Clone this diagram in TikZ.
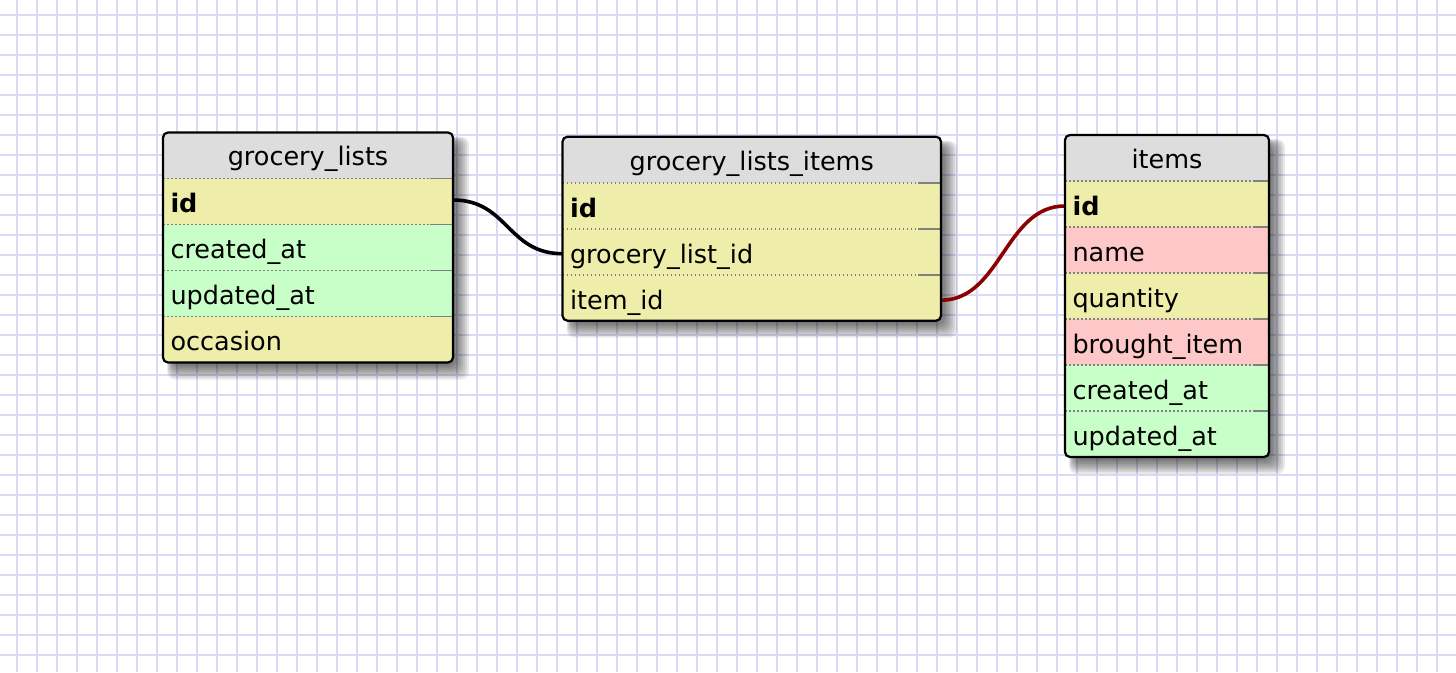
\documentclass[tikz,border=0pt]{standalone}
\usepackage{fontspec}
\setmainfont{DejaVu Sans}
\usetikzlibrary{calc}
\definecolor{hdrgray}{HTML}{DDDDDD}
\definecolor{numy}{HTML}{EEEEAA}
\definecolor{dateg}{RGB}{200,255,200}
\definecolor{charp}{RGB}{255,200,200}
\definecolor{gridc}{RGB}{218,218,244}
\definecolor{sepc}{HTML}{808080}
\definecolor{relred}{RGB}{140,0,0}
\newcommand\rowfont{\fontsize{25.5}{30}\selectfont}
\pgfdeclarelayer{gridlayer}
\pgfdeclarelayer{shadowlayer}
\pgfdeclarelayer{connlayer}
\pgfsetlayers{gridlayer,shadowlayer,connlayer,main}
\newcommand\shbox[4]{%
  \foreach \e in {-4,-2,...,12}{%
    \fill[black,opacity=0.085,rounded corners=8] ({#1+9-0.4*(\e)},{#2+9-0.4*(\e)}) rectangle ({#3+4+\e},{#4+5+\e});}}
\newcommand\sepline[2]{%
  \draw[sepdot] (#1.north west) -- ([xshift=-#2]#1.north east);
  \draw[sepsolid] ([xshift=-#2]#1.north east) -- (#1.north east);}
\tikzset{
  gridl/.style={draw=gridc, line width=2.2},
  rowbox/.style={rectangle, anchor=north west, minimum height=46, inner xsep=7.5, inner ysep=0,
    text height=25, text depth=2.2, align=left, font=\rowfont, outer sep=0},
  hdrbox/.style={rectangle, anchor=north west, minimum height=46, inner xsep=7.5, inner ysep=0,
    text height=23, text depth=2.2, align=center, font=\rowfont, outer sep=0, fill=hdrgray},
  tborder/.style={draw=black, line width=2.2, rounded corners=5},
  sepdot/.style={draw=sepc, line width=1.7, dash pattern=on 1.7 off 2.3},
  sepsolid/.style={draw=sepc, line width=1.8},
  rel/.style={line width=3.6, line cap=round},
}
\begin{document}
\begin{tikzpicture}[x=1pt,y=-1pt]
\useasboundingbox (0,0) rectangle (1456,672);
\begin{pgfonlayer}{gridlayer}
  \fill[white] (0,0) rectangle (1456,672);
  \foreach \x in {17,37,...,1457} \draw[gridl] (\x,0) -- (\x,672);
  \foreach \y in {15,35,...,675} \draw[gridl] (0,\y) -- (1456,\y);
\end{pgfonlayer}
\begin{pgfonlayer}{shadowlayer}
  \shbox{163}{132.5}{453}{362.5}
  \shbox{562.5}{136.7}{941}{320.7}
  \shbox{1065}{135}{1269}{457}
\end{pgfonlayer}

% table grocery_lists
\begin{scope}
  \clip[rounded corners=5] (163,132.5) rectangle (453,362.5);
  \node[hdrbox, text width=275pt] (gl-h) at (163,132.5) {grocery\_lists};
  \node[rowbox, text width=275pt, fill=numy] (gl-id) at (gl-h.south west) {\textbf{id}};
  \node[rowbox, text width=275pt, fill=dateg] (gl-ca) at (gl-id.south west) {created\_at};
  \node[rowbox, text width=275pt, fill=dateg] (gl-ua) at (gl-ca.south west) {updated\_at};
  \node[rowbox, text width=275pt, fill=numy] (gl-oc) at (gl-ua.south west) {occasion};
\end{scope}
\sepline{gl-id}{23}
\sepline{gl-ca}{23}
\sepline{gl-ua}{23}
\sepline{gl-oc}{23}
\draw[tborder] (gl-h.north west) rectangle (gl-oc.south east);

% table grocery_lists_items
\begin{scope}
  \clip[rounded corners=5] (562.5,136.7) rectangle (941,320.7);
  \node[hdrbox, text width=363.5pt] (gli-h) at (562.5,136.7) {grocery\_lists\_items};
  \node[rowbox, text width=363.5pt, fill=numy] (gli-id) at (gli-h.south west) {\textbf{id}};
  \node[rowbox, text width=363.5pt, fill=numy] (gli-glid) at (gli-id.south west) {grocery\_list\_id};
  \node[rowbox, text width=363.5pt, fill=numy] (gli-item) at (gli-glid.south west) {item\_id};
\end{scope}
\sepline{gli-id}{23}
\sepline{gli-glid}{23}
\sepline{gli-item}{23}
\draw[tborder] (gli-h.north west) rectangle (gli-item.south east);

% table items
\begin{scope}
  \clip[rounded corners=5] (1065,135) rectangle (1269,457);
  \node[hdrbox, text width=189pt] (it-h) at (1065,135) {items};
  \node[rowbox, text width=189pt, fill=numy] (it-id) at (it-h.south west) {\textbf{id}};
  \node[rowbox, text width=189pt, fill=charp] (it-name) at (it-id.south west) {name};
  \node[rowbox, text width=189pt, fill=numy] (it-qty) at (it-name.south west) {quantity};
  \node[rowbox, text width=189pt, fill=charp] (it-bi) at (it-qty.south west) {brought\_item};
  \node[rowbox, text width=189pt, fill=dateg] (it-ca) at (it-bi.south west) {created\_at};
  \node[rowbox, text width=189pt, fill=dateg] (it-ua) at (it-ca.south west) {updated\_at};
\end{scope}
\sepline{it-id}{14}
\sepline{it-name}{14}
\sepline{it-qty}{14}
\sepline{it-bi}{14}
\sepline{it-ca}{14}
\sepline{it-ua}{14}
\draw[tborder] (it-h.north west) rectangle (it-ua.south east);

% relations
\begin{pgfonlayer}{connlayer}
  \draw[rel, black] ([yshift=1.5]gl-id.east) .. controls +(55,0) and +(-55,0) .. ([yshift=-2]gli-glid.west);
  \draw[rel, relred] ([yshift=-2.5]gli-item.east) .. controls +(60,0) and +(-60,0) .. ([yshift=-2]it-id.west);
\end{pgfonlayer}
\end{tikzpicture}
\end{document}
